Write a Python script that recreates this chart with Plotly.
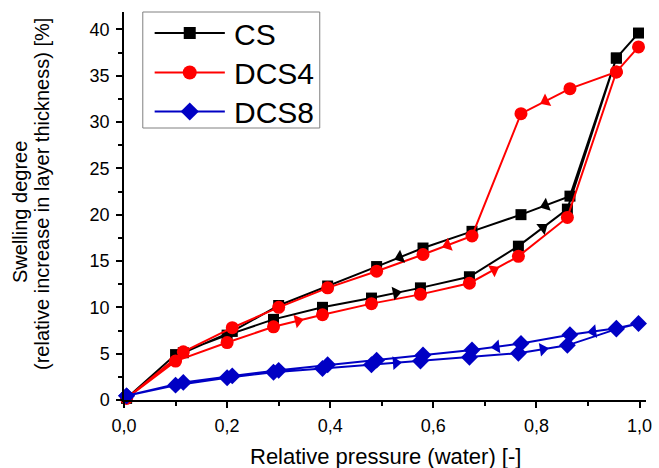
import math
import plotly.graph_objects as go

# ---- data (adsorption up to p/p0 = 1, then desorption back) ----
px_path = [0.005, 0.10, 0.20, 0.29, 0.385, 0.48, 0.575, 0.67, 0.765, 0.86, 0.955, 0.998,
           0.955, 0.865, 0.77, 0.675, 0.58, 0.49, 0.395, 0.30, 0.21, 0.115, 0.005]
cs_y = [0.2, 4.9, 7.0, 8.7, 10.0, 11.0, 12.1, 13.3, 16.6, 20.6, 36.9, 39.6,
        36.9, 22.0, 20.0, 18.2, 16.4, 14.4, 12.3, 10.2, 7.4, 5.1, 0.2]
dcs4_y = [0.2, 4.2, 6.2, 7.9, 9.2, 10.4, 11.4, 12.6, 15.5, 19.7, 35.4, 38.1,
          35.4, 33.6, 30.9, 17.7, 15.7, 13.9, 12.1, 10.0, 7.8, 5.2, 0.2]
dcs8_y = [0.45, 1.6, 2.4, 3.0, 3.4, 3.8, 4.2, 4.6, 5.05, 5.9, 7.65, 8.25,
          7.75, 7.05, 6.1, 5.4, 4.85, 4.3, 3.8, 3.2, 2.6, 1.9, 0.45]

# segments (start index) carrying a direction arrow
cs_arrows = [5, 8, 13, 16]
dcs4_arrows = [3, 7, 13, 15]
dcs8_arrows = [5, 8, 12, 14]

x_ticks = [0.0, 0.2, 0.4, 0.6, 0.8, 1.0]
y_ticks = [0, 5, 10, 15, 20, 25, 30, 35, 40]

W, H = 659, 468
M = dict(l=124, r=7, t=12, b=68)
XR = [0, 1.0125]
YR = [0, 41.87]
PW = W - M["l"] - M["r"]
PH = H - M["t"] - M["b"]
kx = PW / (XR[1] - XR[0])
ky = PH / (YR[1] - YR[0])

FONT = "Arial, Liberation Sans, sans-serif"

series = [
    ("CS", cs_y, "#000000", "square", 11, cs_arrows),
    ("DCS4", dcs4_y, "#FF0000", "circle", 13, dcs4_arrows),
    ("DCS8", dcs8_y, "#0000C4", "diamond", 13, dcs8_arrows),
]

fig = go.Figure()
for name, ys, col, sym, size, arrows in series:
    fig.add_trace(go.Scatter(
        x=px_path, y=ys, mode="lines+markers", name=name, showlegend=False,
        line=dict(color=col, width=2),
        marker=dict(symbol=sym, size=size, color=col, line=dict(width=0)),
        cliponaxis=False,
    ))
for name, ys, col, sym, size, arrows in series:
    ax, ay, ang = [], [], []
    for i in arrows:
        x0, x1 = px_path[i], px_path[i + 1]
        y0, y1 = ys[i], ys[i + 1]
        ax.append((x0 + x1) / 2)
        ay.append((y0 + y1) / 2)
        ang.append(math.degrees(math.atan2((x1 - x0) * kx, (y1 - y0) * ky)))
    fig.add_trace(go.Scatter(
        x=ax, y=ay, mode="markers", showlegend=False, hoverinfo="skip",
        marker=dict(symbol="triangle-up", size=12, color=col, angle=ang,
                    line=dict(width=0)),
        cliponaxis=False,
    ))

# ---- custom legend (pixel layout converted to paper coordinates) ----
def px2paper_x(p):
    return (p - M["l"]) / PW

def px2paper_y(p):
    return (H - M["b"] - p) / PH

leg_box = dict(x0=143, x1=322, y0=12, y1=128)
leg_rows = [33, 72.5, 111.5]
line_x0, line_x1, text_x = 155, 226, 233

fig.add_shape(type="rect", xref="paper", yref="paper",
              x0=px2paper_x(leg_box["x0"]), x1=px2paper_x(leg_box["x1"]),
              y0=px2paper_y(leg_box["y1"]), y1=px2paper_y(leg_box["y0"]),
              line=dict(color="#808080", width=1), fillcolor="white", layer="below")
for (name, ys, col, sym, size, arrows), ry in zip(series, leg_rows):
    fig.add_shape(type="line", xref="paper", yref="paper",
                  x0=px2paper_x(line_x0), x1=px2paper_x(line_x1),
                  y0=px2paper_y(ry), y1=px2paper_y(ry),
                  line=dict(color=col, width=2))
    fig.add_trace(go.Scatter(
        x=[px2paper_x((line_x0 + line_x1) / 2)], y=[px2paper_y(ry)],
        xaxis="x2", yaxis="y2", mode="markers", showlegend=False, hoverinfo="skip",
        marker=dict(symbol=sym, size=size + 1, color=col, line=dict(width=0)),
        cliponaxis=False,
    ))
    fig.add_annotation(text=name, xref="paper", yref="paper",
                       x=px2paper_x(text_x), y=px2paper_y(ry + 1),
                       xanchor="left", yanchor="middle", showarrow=False,
                       font=dict(family=FONT, size=30, color="black"))

axis_common = dict(
    showline=True, linecolor="black", linewidth=1.5,
    ticks="outside", ticklen=6, tickwidth=1.5, tickcolor="black",
    showgrid=False, zeroline=False, mirror=False,
    tickfont=dict(family=FONT, size=18, color="black"),
)
fig.update_xaxes(range=XR, tickvals=x_ticks, ticktext=[f"{v:.1f}".replace(".", ",") for v in x_ticks],
                 minor=dict(ticks="outside", ticklen=4, tickwidth=1.5, tickcolor="black", dtick=0.1),
                 ticklabelstandoff=3, **axis_common)
fig.update_yaxes(range=YR, tickvals=y_ticks,
                 minor=dict(ticks="outside", ticklen=4, tickwidth=1.5, tickcolor="black", dtick=2.5),
                 ticklabelstandoff=3, **axis_common)

fig.add_annotation(text="Relative pressure (water) [-]", xref="paper", yref="paper",
                   x=0.5, y=0, yanchor="top", yshift=-42, showarrow=False,
                   font=dict(family=FONT, size=22, color="black"))
fig.add_annotation(text="(relative increase in layer thickness) [%]", xref="paper", yref="paper",
                   x=0, y=0.5, xanchor="center", yanchor="middle", xshift=-82, yshift=12,
                   textangle=-90, showarrow=False,
                   font=dict(family=FONT, size=20, color="black"))
fig.add_annotation(text="Swelling degree", xref="paper", yref="paper",
                   x=0, y=0.5, xanchor="center", yanchor="middle", xshift=-104, yshift=-6,
                   textangle=-90, showarrow=False,
                   font=dict(family=FONT, size=20, color="black"))

fig.update_layout(
    width=W, height=H, margin=M,
    paper_bgcolor="white", plot_bgcolor="white",
    showlegend=False,
    xaxis2=dict(overlaying="x", range=[0, 1], visible=False, fixedrange=True),
    yaxis2=dict(overlaying="y", range=[0, 1], visible=False, fixedrange=True),
)

fig.write_html("out.html")
